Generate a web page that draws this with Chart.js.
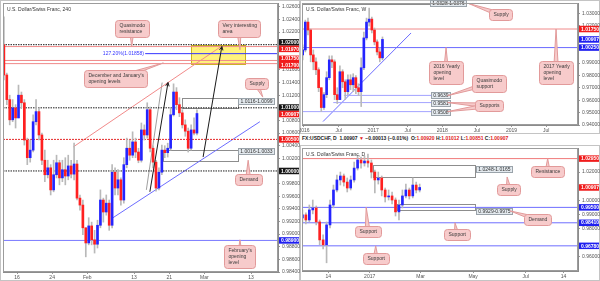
<!DOCTYPE html>
<html lang="en">
<head>
  <meta charset="UTF-8" />
  <title>USDCHF 240 / W / D</title>
  <script src="https://cdn.jsdelivr.net/npm/chart.js"></script>
  <style>
    html, body { margin: 0; padding: 0; background: #fff; }
    body { width: 600px; height: 281px; position: relative; overflow: hidden; font-family: Arial, "Liberation Sans", sans-serif; }
    canvas { position: absolute; display: block; }
    #c240 { left: 0; top: 0; }
    #cW { left: 300px; top: 0; }
    #cD { left: 300px; top: 145px; }
    #info { position: absolute; left: 302px; top: 135px; height: 9px; line-height: 9px; font: bold 5px Arial, sans-serif; color: #222; white-space: nowrap; }
    #info .r { color: #e01818; }
  </style>
</head>
<body>
<canvas id="c240" width="300" height="281"></canvas>
<canvas id="cW" width="300" height="134"></canvas>
<div id="info">FX:USDCHF, D&nbsp; 1.00907 <span class="r">▼</span> −0.00013 (−0.01%)&nbsp; O:<span class="r">1.00920</span> H:<span class="r">1.01012</span> L:<span class="r">1.00851</span> C:<span class="r">1.00907</span></div>
<canvas id="cD" width="300" height="136"></canvas>

<script>
// ---------- 240 (4h) chart: x in trading days from Jan 16 ----------
const h4Start = -2.25, h4Step = 0.5, h4Open0 = 1.0200;
const h4Close = [1.0152,1.0113,1.0081,1.0100,1.0084,1.0120,1.0108,1.0049,1.0021,1.0033,
  1.0078,1.0094,1.0057,1.0017,0.9994,1.0005,0.9970,0.9994,1.0013,0.9989,
  1.0002,0.9992,1.0008,0.9995,1.0011,0.9957,0.9946,0.9910,0.9886,0.9913,
  0.9891,0.9884,0.9914,0.9954,0.9935,0.9949,0.9914,0.9998,0.9973,0.9986,
  0.9954,1.0010,1.0036,1.0025,1.0046,1.0030,1.0017,1.0065,1.0057,1.0097,
  1.0036,1.0014,0.9973,0.9998,1.0033,1.0029,1.0036,1.0089,1.0125,1.0105,
  1.0092,1.0073,1.0063,1.0036,1.0065,1.0060,1.0091];
const h4High = [1.0244,1.0155,1.0120,1.0113,1.0105,1.0136,1.0125,1.0113,1.0052,1.0049,
  1.0089,1.0113,1.0100,1.0060,1.0033,1.0017,1.0010,1.0017,1.0025,1.0017,
  1.0017,1.0021,1.0025,1.0017,1.0044,1.0017,0.9962,0.9954,0.9910,0.9926,
  0.9919,0.9906,0.9922,0.9970,0.9957,0.9962,0.9954,1.0010,1.0005,1.0002,
  0.9989,1.0021,1.0052,1.0049,1.0062,1.0052,1.0036,1.0076,1.0073,1.0108,
  1.0101,1.0040,1.0017,1.0005,1.0041,1.0040,1.0044,1.0100,1.0138,1.0132,
  1.0116,1.0097,1.0081,1.0068,1.0073,1.0084,1.0097];
const h4Low = [1.0144,1.0105,1.0073,1.0078,1.0068,1.0084,1.0100,1.0041,1.0010,1.0014,
  1.0030,1.0073,1.0049,1.0010,0.9983,0.9989,0.9962,0.9967,0.9989,0.9978,
  0.9983,0.9978,0.9986,0.9989,0.9986,0.9954,0.9938,0.9899,0.9864,0.9883,
  0.9883,0.9870,0.9878,0.9910,0.9919,0.9930,0.9906,0.9910,0.9962,0.9962,
  0.9946,0.9949,1.0005,1.0017,1.0021,1.0021,1.0013,1.0014,1.0049,1.0052,
  1.0030,1.0005,0.9968,0.9970,0.9994,1.0021,1.0022,1.0033,1.0087,1.0097,
  1.0086,1.0068,1.0055,1.0030,1.0033,1.0057,1.0057];
const h4TickDays = [0, 6, 12, 20, 26, 32, 40];
const h4TickText = ['16', '24', 'Feb', '13', '21', 'Mar', '13'];
const h4PriceTicks = [1.026,1.024,1.022,1.016,1.014,1.012,1.008,1.006,1.004,1.002,
  0.998,0.996,0.994,0.992,0.990,0.988,0.986,0.984];
const h4Dotted = [1.0200, 1.0100, 1.0000];
const h4RedLevels = [1.0197, 1.0175, 1.0170];
const h4RedDotted = [1.0050];
const h4BlueLevels = [0.9890];
const h4Fib = 1.01858;
const h4BadgeValues = [1.0200, 1.0197, 1.0175, 1.0170, 1.0100, 1.00907, 1.0050, 1.0000, 0.9890];
const h4BadgeKinds = ['k', 'r', 'r', 'r', 'k', 'r', 'r', 'k', 'b'];

// ---------- weekly chart: x in weeks from Jan 2016 ----------
const wStart = -1, wStep = 2, wOpen0 = 0.9966;
const wClose = [1.0006,1.0231,1.0167,0.9966,0.9910,0.9846,0.9701,0.9541,0.9645,0.9782,
  0.9926,0.9910,0.9645,0.9605,0.9830,0.9749,0.9669,0.9765,0.9725,0.9782,
  0.9701,0.9669,0.9862,1.0103,1.0231,1.0255,1.0167,1.0071,0.9990,0.9942,1.0091];
const wHigh = [1.0047,1.0247,1.0263,1.0175,1.0006,0.9942,0.9862,0.9701,0.9661,0.9830,
  0.9958,0.9958,0.9926,0.9701,0.9878,0.9846,0.9765,0.9806,0.9806,0.9814,
  0.9798,0.9733,0.9942,1.0151,1.0263,1.0344,1.0271,1.0183,1.0087,1.0022,1.0111];
const wLow = [0.9926,0.9990,1.0127,0.9910,0.9846,0.9806,0.9669,0.9509,0.9525,0.9621,
  0.9765,0.9862,0.9605,0.9573,0.9605,0.9701,0.9605,0.9645,0.9685,0.9669,
  0.9653,0.9637,0.9549,0.9846,1.0087,1.0199,1.0143,1.0047,0.9966,0.9910,0.9926];
const wTickWeeks = [0, 26, 52, 78, 104, 130, 156, 182];
const wTickText = ['2016', 'Jul', '2017', 'Jul', '2018', 'Jul', '2019', 'Jul'];
const wPriceTicks = [1.03, 1.02, 0.99, 0.98, 0.97, 0.96, 0.95, 0.94];
const wSupportLevels = [0.9639, 0.9581, 0.9508];
const wSupportFrom = [30, 22, -1.5];
const wBadgeValues = [1.0175, 1.00907, 1.0025];
const wBadgeKinds = ['r', 'b', 'b'];

// ---------- daily chart: x in calendar days from Jan 1 2017 ----------
const dStart = -78, dStep = 4, dOpen0 = 0.9875;
const dClose = [0.9897,0.9861,0.9932,0.9946,0.9847,0.9720,0.9685,0.9826,0.9967,1.0073,
  1.0144,1.0172,1.0129,1.0087,1.0144,1.0228,1.0285,1.0264,1.0278,1.0264,
  1.0200,1.0144,1.0158,1.0073,1.0024,1.0031,1.0002,0.9918,0.9967,1.0031,
  1.0073,1.0031,1.0108,1.0073,1.0091];
const dHigh = [0.9932,0.9911,0.9967,1.0002,0.9960,0.9861,0.9755,0.9847,1.0002,1.0108,
  1.0179,1.0200,1.0186,1.0158,1.0172,1.0271,1.0320,1.0306,1.0313,1.0327,
  1.0285,1.0214,1.0200,1.0172,1.0087,1.0073,1.0059,1.0017,1.0002,1.0073,
  1.0115,1.0087,1.0158,1.0129,1.0115];
const dLow = [0.9847,0.9833,0.9847,0.9904,0.9826,0.9685,0.9657,0.9558,0.9805,0.9946,
  1.0059,1.0108,1.0101,1.0059,1.0073,1.0129,1.0214,1.0228,1.0242,1.0235,
  1.0158,1.0052,1.0115,1.0031,0.9988,1.0002,0.9974,0.9889,0.9861,0.9946,
  1.0017,1.0009,1.0017,1.0052,1.0059];
const dTickDays = [-48, 0, 59, 120, 181, 225];
const dTickText = ['14', '2017', 'Mar', 'May', 'Jul', '14'];
const dPriceTicks = [1.02, 1.00, 0.99, 0.98, 0.96];
const dRedLevels = [1.0295];
const dBlueLevels = [0.9950, 0.9841, 0.9678];
const dBadgeValues = [1.0295, 1.00907, 0.9950, 0.9841, 0.9678];
const dBadgeKinds = ['r', 'r', 'b', 'b', 'b'];

// ---------- helpers ----------
const UP = '#2424ff', DOWN = '#ff2020', WICK = '#b9b9b9';
const PINK = '#f7cbcb', PINK_EDGE = '#e29a9a';
const BADGE = { k: '#161616', r: '#f01c1c', b: '#1f1ff0' };
const F5 = '5px Arial';

function candles(start, step, open0, closes, highs, lows, body) {
  const bodies = [], wicks = [];
  let prev = open0;
  closes.forEach((c, i) => {
    const x = start + step * i;
    bodies.push({ x, y: [prev, c] });
    wicks.push({ x, y: [lows[i], highs[i]] });
    prev = c;
  });
  return [
    { type: 'bar', data: wicks, backgroundColor: WICK, barThickness: 1, grouped: false, order: 3 },
    { type: 'bar', data: bodies, barThickness: body, grouped: false, minBarLength: 1, order: 1,
      backgroundColor: ctx => (ctx.raw && ctx.raw.y[1] >= ctx.raw.y[0]) ? UP : DOWN }
  ];
}

function seg(x0, y0, x1, y1, color, dash, width) {
  return { type: 'line', data: [{ x: x0, y: y0 }, { x: x1, y: y1 }], borderColor: color,
    borderWidth: width || 1, borderDash: dash || [], pointRadius: 0, fill: false, order: 5 };
}

function scales(xmin, xmax, ymin, ymax, xTicks, xText, yTicks, xh) {
  return {
    x: {
      type: 'linear', min: xmin, max: xmax, offset: false,
      grid: { display: true, drawOnChartArea: false, tickLength: 2, color: '#999', offset: false },
      border: { display: true, color: '#8c8c8c' },
      afterBuildTicks: s => { s.ticks = xTicks.map(v => ({ value: v })); },
      afterFit: s => { s.height = xh; s.paddingLeft = 0; s.paddingRight = 0; },
      ticks: { autoSkip: false, maxRotation: 0, padding: 1, color: '#555', font: { size: 5, family: 'Arial' },
        callback: (v, i) => xText[i] }
    },
    y: {
      type: 'linear', position: 'right', min: ymin, max: ymax,
      grid: { display: true, drawOnChartArea: false, tickLength: 2, color: '#999' },
      border: { display: true, color: '#8c8c8c' },
      afterBuildTicks: s => { s.ticks = yTicks.map(v => ({ value: v })); },
      afterFit: s => { s.width = 22; s.paddingTop = 0; s.paddingBottom = 0; },
      ticks: { autoSkip: false, padding: 2, color: '#555', font: { size: 5, family: 'Arial' },
        callback: v => v.toFixed(5) }
    }
  };
}

function roundRect(ctx, x, y, w, h, r) {
  ctx.moveTo(x + r, y);
  ctx.arcTo(x + w, y, x + w, y + h, r);
  ctx.arcTo(x + w, y + h, x, y + h, r);
  ctx.arcTo(x, y + h, x, y, r);
  ctx.arcTo(x, y, x + w, y, r);
  ctx.closePath();
}

function drawCallout(ctx, xs, ys, c) {
  ctx.font = F5;
  const lh = 6;
  const tw = Math.max(...c.lines.map(t => ctx.measureText(t).width));
  const w = Math.round(tw + 8), h = c.lines.length * lh + 5;
  const cx = xs.getPixelForValue(c.at[0]), cy = ys.getPixelForValue(c.at[1]);
  const bx = Math.round(cx - w / 2) + 0.5, by = Math.round(cy - h / 2) + 0.5;
  ctx.fillStyle = PINK; ctx.strokeStyle = PINK_EDGE; ctx.lineWidth = 1;
  (c.to || []).forEach(t => {
    const tx = xs.getPixelForValue(t[0]), ty = ys.getPixelForValue(t[1]);
    const ang = Math.atan2(ty - cy, tx - cx);
    const ox = -Math.sin(ang) * 2.5, oy = Math.cos(ang) * 2.5;
    ctx.beginPath();
    ctx.moveTo(cx + ox, cy + oy); ctx.lineTo(tx, ty); ctx.lineTo(cx - ox, cy - oy);
    ctx.closePath(); ctx.fill(); ctx.stroke();
  });
  ctx.beginPath(); roundRect(ctx, bx, by, w, h, 3); ctx.fill(); ctx.stroke();
  ctx.fillStyle = '#3a3a3a'; ctx.textAlign = 'left'; ctx.textBaseline = 'middle';
  c.lines.forEach((t, i) => ctx.fillText(t, bx + 4, by + 2.5 + lh * (i + 0.5)));
}

function drawTag(ctx, xs, ys, t) {
  ctx.font = F5;
  const w = Math.round(ctx.measureText(t.text).width + 4), h = 6;
  const cx = xs.getPixelForValue(t.at[0]), cy = ys.getPixelForValue(t.at[1]);
  const bx = Math.round(cx - w / 2) + 0.5, by = Math.round(cy - h / 2) + 0.5;
  ctx.fillStyle = '#e4eaef'; ctx.strokeStyle = '#9aa3aa'; ctx.lineWidth = 1;
  ctx.fillRect(bx, by, w, h); ctx.strokeRect(bx, by, w, h);
  ctx.fillStyle = '#333'; ctx.textAlign = 'center'; ctx.textBaseline = 'middle';
  ctx.fillText(t.text, bx + w / 2, by + h / 2 + 0.3);
}

function drawArrow(ctx, xs, ys, a) {
  const x0 = xs.getPixelForValue(a.from[0]), y0 = ys.getPixelForValue(a.from[1]);
  const x1 = xs.getPixelForValue(a.to[0]), y1 = ys.getPixelForValue(a.to[1]);
  ctx.strokeStyle = '#1a1a1a'; ctx.lineWidth = 1;
  ctx.beginPath(); ctx.moveTo(x0, y0); ctx.lineTo(x1, y1); ctx.stroke();
  const ang = Math.atan2(y1 - y0, x1 - x0);
  ctx.beginPath();
  ctx.moveTo(x1 - 4 * Math.cos(ang - 0.45), y1 - 4 * Math.sin(ang - 0.45));
  ctx.lineTo(x1, y1);
  ctx.lineTo(x1 - 4 * Math.cos(ang + 0.45), y1 - 4 * Math.sin(ang + 0.45));
  ctx.stroke();
}

const deco = {
  id: 'deco',
  beforeDraw(chart) {
    const { ctx, width, height } = chart;
    ctx.save();
    ctx.fillStyle = '#fff'; ctx.fillRect(0, 0, width, height);
    ctx.strokeStyle = '#c4c4c4'; ctx.lineWidth = 1;
    ctx.strokeRect(0.5, 0.5, width - 1, height - 1);
    ctx.restore();
  },
  beforeDatasetsDraw(chart, args, o) {
    const { ctx, chartArea: ca, scales: { x, y } } = chart;
    ctx.save();
    ctx.beginPath(); ctx.rect(ca.left, ca.top, ca.width, ca.height); ctx.clip();
    (o.zones || []).forEach(z => {
      const x0 = Math.round(x.getPixelForValue(z.x0)) + 0.5, x1 = Math.round(x.getPixelForValue(z.x1)) + 0.5;
      const y0 = Math.round(y.getPixelForValue(z.hi)) + 0.5, y1 = Math.round(y.getPixelForValue(z.lo)) + 0.5;
      ctx.fillStyle = z.yellow ? '#fff27c' : 'rgba(255,255,255,0.15)';
      ctx.strokeStyle = z.yellow ? '#c9b51a' : '#8d8d8d';
      ctx.lineWidth = 1;
      ctx.fillRect(x0, y0, x1 - x0, y1 - y0);
      ctx.strokeRect(x0, y0, x1 - x0, y1 - y0);
    });
    ctx.restore();
  },
  afterDatasetsDraw(chart, args, o) {
    const { ctx, scales: { x, y } } = chart;
    ctx.save();
    (o.arrows || []).forEach(a => drawArrow(ctx, x, y, a));
    (o.texts || []).forEach(t => {
      ctx.font = F5; ctx.fillStyle = t.color; ctx.textAlign = t.align; ctx.textBaseline = 'middle';
      ctx.fillText(t.text, x.getPixelForValue(t.at[0]), y.getPixelForValue(t.at[1]));
    });
    (o.tags || []).forEach(t => drawTag(ctx, x, y, t));
    (o.callouts || []).forEach(c => drawCallout(ctx, x, y, c));
    ctx.restore();
  },
  afterDraw(chart, args, o) {
    const { ctx, chartArea: ca, scales: { y } } = chart;
    ctx.save();
    ctx.strokeStyle = '#9c9c9c'; ctx.lineWidth = 1;
    ctx.strokeRect(ca.left + 0.5, ca.top + 0.5, ca.width - 1, ca.height - 1);
    // price badges on the right axis
    const H = 6.5;
    const items = (o.badges || []).map((v, i) => ({ v, k: o.kinds[i], py: y.getPixelForValue(v) }))
      .sort((a, b) => a.py - b.py);
    for (let p = 0; p < 8; p++) {
      for (let i = 1; i < items.length; i++) {
        const d = H - (items[i].py - items[i - 1].py);
        if (d > 0) { items[i - 1].py -= d / 2; items[i].py += d / 2; }
      }
    }
    items.forEach(it => {
      ctx.fillStyle = BADGE[it.k];
      ctx.fillRect(ca.right + 1, it.py - H / 2, chart.width - ca.right - 2, H);
      ctx.fillStyle = '#fff'; ctx.font = 'bold 5px Arial'; ctx.textAlign = 'left'; ctx.textBaseline = 'middle';
      ctx.fillText(it.v.toFixed(5), ca.right + 3, it.py + 0.3);
    });
    ctx.fillStyle = '#333'; ctx.font = F5; ctx.textAlign = 'left'; ctx.textBaseline = 'middle';
    ctx.fillText(o.title, ca.left + 4, ca.top + 7);
    ctx.restore();
  }
};

function baseOptions(padLeft, sc, decoOpts) {
  return {
    responsive: false, animation: false, events: [],
    layout: { padding: { left: padLeft, top: 3, right: 0, bottom: 0 } },
    plugins: { legend: { display: false }, tooltip: { enabled: false }, deco: decoOpts },
    scales: sc
  };
}

// ---------- 240 chart ----------
const L_XMIN = -2.4, L_XMAX = 44.6;
const h4Sets = [
  ...h4Dotted.map(v => seg(L_XMIN, v, L_XMAX, v, '#1e1e1e', [1.5, 1])),
  ...h4RedLevels.map(v => seg(L_XMIN, v, L_XMAX, v, '#f08a8a')),
  ...h4RedDotted.map(v => seg(L_XMIN, v, L_XMAX, v, '#e52a2a', [2, 1])),
  ...h4BlueLevels.map(v => seg(L_XMIN, v, L_XMAX, v, '#7a7aff')),
  seg(21.9, h4Fib, L_XMAX, h4Fib, '#3535ff'),
  seg(9.6, 1.0038, 34.7, 1.0196, '#f28a8a'),
  seg(16.4, 0.9926, 41.5, 1.0078, '#6d6dff'),
  seg(22.1, 0.9970, 24.8, 1.0140, '#a0a0a0'),
  ...candles(h4Start, h4Step, h4Open0, h4Close, h4High, h4Low, 2)
];

new Chart(document.getElementById('c240'), {
  type: 'bar',
  data: { datasets: h4Sets },
  options: baseOptions(3, scales(L_XMIN, L_XMAX, 0.9840, 1.0266, h4TickDays, h4TickText, h4PriceTicks, 9), {
    title: 'U.S. Dollar/Swiss Franc, 240',
    badges: h4BadgeValues, kinds: h4BadgeKinds,
    zones: [
      { x0: 29.7, x1: 39.0, lo: 1.0170, hi: 1.0200, yellow: true },
      { x0: 28.2, x1: 37.8, lo: 1.0099, hi: 1.0116 },
      { x0: 25.0, x1: 37.8, lo: 1.0016, hi: 1.0033 }
    ],
    arrows: [
      { from: [22.7, 0.9967], to: [25.8, 1.0140] },
      { from: [31.8, 1.0022], to: [35.0, 1.0197] }
    ],
    texts: [{ text: '127.20%(1.01858)', at: [21.7, h4Fib], color: '#3535ff', align: 'right' }],
    tags: [
      { text: '1.0116-1.0099', at: [40.8, 1.0111] },
      { text: '1.0016-1.0033', at: [40.9, 1.0031] }
    ],
    callouts: [
      { lines: ['Quasimodo', 'resistance'], at: [19.6, 1.0226], to: [[19.6, 1.0197]] },
      { lines: ['Very interesting', 'area'], at: [37.9, 1.0226], to: [[38.1, 1.0192]] },
      { lines: ["December and January's", 'opening levels'], at: [16.8, 1.0146], to: [[25.0, 1.0171]] },
      { lines: ['Supply'], at: [40.9, 1.0138], to: [[42.0, 1.0117]] },
      { lines: ['Demand'], at: [39.5, 0.9987], to: [[39.5, 1.0017]] },
      { lines: ["February's", 'opening', 'level'], at: [38.1, 0.9864], to: [[38.1, 0.9891]] }
    ]
  }),
  plugins: [deco]
});

// ---------- weekly chart ----------
const W_XMIN = -1.5, W_XMAX = 206.0;
const wSets = [
  seg(W_XMIN, 1.0175, W_XMAX, 1.0175, '#f08a8a'),
  seg(W_XMIN, 1.0025, W_XMAX, 1.0025, '#6a6aff'),
  ...wSupportLevels.map((v, i) => seg(wSupportFrom[i], v, 97, v, '#a3a3ff')),
  seg(14.3, 0.9428, 80.5, 1.0143, '#6d6dff'),
  ...candles(wStart, wStep, wOpen0, wClose, wHigh, wLow, 2)
];

new Chart(document.getElementById('cW'), {
  type: 'bar',
  data: { datasets: wSets },
  options: baseOptions(2, scales(W_XMIN, W_XMAX, 0.9400, 1.0385, wTickWeeks, wTickText, wPriceTicks, 9), {
    title: 'U.S. Dollar/Swiss Franc, W',
    badges: wBadgeValues, kinds: wBadgeKinds,
    zones: [{ x0: -2.5, x1: 96, lo: 1.0376, hi: 1.0420 }],
    tags: [
      { text: '1.0328-1.0376', at: [108, 1.0382] },
      { text: '0.9639', at: [102.3, 0.9639] },
      { text: '0.9581', at: [102.3, 0.9581] },
      { text: '0.9508', at: [102.3, 0.9508] }
    ],
    callouts: [
      { lines: ['Supply'], at: [148, 1.0291], to: [[124, 1.0380]] },
      { lines: ['2016 Yearly', 'opening', 'level'], at: [106.8, 0.9826], to: [[106.8, 1.0025]] },
      { lines: ['2017 Yearly', 'opening', 'level'], at: [189.5, 0.9826], to: [[189.5, 1.0175]] },
      { lines: ['Quasimodo', 'support'], at: [139, 0.9737], to: [[108, 0.9637]] },
      { lines: ['Supports'], at: [139, 0.9557], to: [[108, 0.9581], [108, 0.9508]] }
    ]
  }),
  plugins: [deco]
});

// ---------- daily chart ----------
const D_XMIN = -78.5, D_XMAX = 241.7;
const dSets = [
  ...dRedLevels.map(v => seg(D_XMIN, v, D_XMAX, v, '#f07a7a')),
  ...dBlueLevels.map(v => seg(D_XMIN, v, D_XMAX, v, '#6e6eff')),
  ...candles(dStart, dStep, dOpen0, dClose, dHigh, dLow, 2)
];

new Chart(document.getElementById('cD'), {
  type: 'bar',
  data: { datasets: dSets },
  options: baseOptions(2, scales(D_XMIN, D_XMAX, 0.9500, 1.0370, dTickDays, dTickText, dPriceTicks, 10), {
    title: 'U.S. Dollar/Swiss Franc, D',
    badges: dBadgeValues, kinds: dBadgeKinds,
    zones: [
      { x0: 4, x1: 122, lo: 1.0165, hi: 1.0248 },
      { x0: 32, x1: 122, lo: 0.9929, hi: 0.9975 }
    ],
    tags: [
      { text: '1.0248-1.0165', at: [144.4, 1.0221] },
      { text: '0.9929-0.9975', at: [144.4, 0.9925] }
    ],
    callouts: [
      { lines: ['Resistance'], at: [206.5, 1.0204], to: [[206.5, 1.0295]] },
      { lines: ['Supply'], at: [161.3, 1.0077], to: [[159.5, 1.0165]] },
      { lines: ['Demand'], at: [194.9, 0.9865], to: [[163, 0.9925]] },
      { lines: ['Support'], at: [-2.3, 0.9777], to: [[-4, 0.9950]] },
      { lines: ['Support'], at: [101, 0.9755], to: [[99, 0.9841]] },
      { lines: ['Support'], at: [7, 0.9590], to: [[7, 0.9678]] }
    ]
  }),
  plugins: [deco]
});
</script>
</body>
</html>
